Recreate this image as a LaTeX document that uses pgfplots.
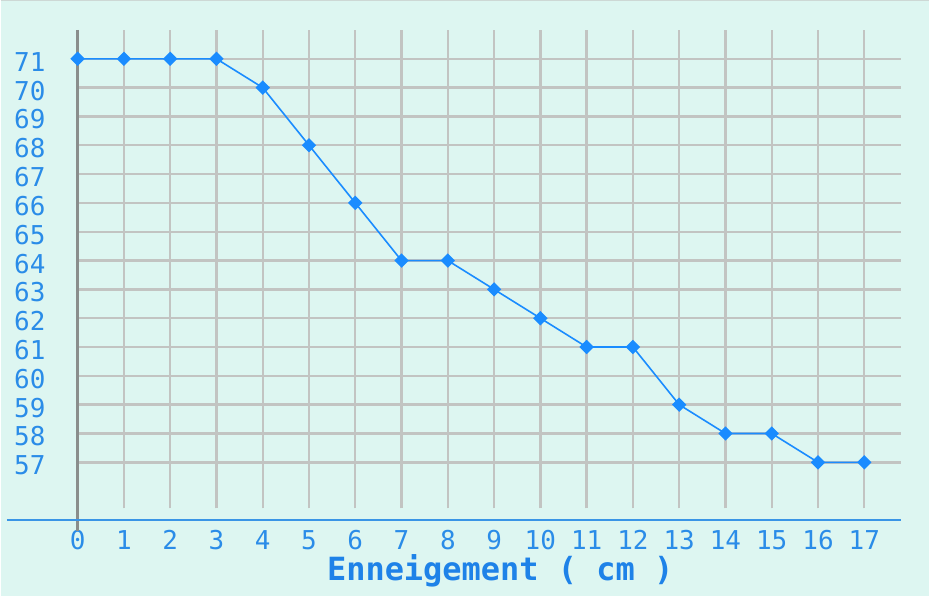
\documentclass[border=0pt]{standalone}
\usepackage{pgfplots}
\pgfplotsset{compat=1.18}
\usepackage{fontspec}
\setmainfont{DejaVu Sans Mono}
\definecolor{bg}{HTML}{DDF6F1}
\definecolor{gridc}{HTML}{C2C4C2}
\definecolor{tickc}{HTML}{2A8CE8}
\definecolor{linec}{HTML}{1A8CFF}
\definecolor{axc}{HTML}{8A8E8C}
\definecolor{xaxc}{HTML}{3A95E6}
\definecolor{labc}{HTML}{1E82E8}
\begin{document}
\begin{tikzpicture}
\fill[bg] (-77pt,-87.8pt) rectangle (853pt,509.2pt);
\draw[color=gridc!60!bg, line width=1.5pt] (-77pt,508.5pt) -- (853pt,508.5pt);
\begin{axis}[
 at={(0,0)}, anchor=south west,
 scale only axis, width=825pt, height=479.2pt,
 xmin=0, xmax=17.8, ymin=55.4, ymax=72,
 axis line style={draw=none},
 xtick={0,...,17}, ytick={57,...,71},
 major tick length=0pt,
 grid=major, major grid style={gridc, line width=2.4pt},
 clip=false,
 tick label style={font=\fontsize{26}{26}\selectfont, text=tickc, inner sep=0pt},
 xticklabel style={anchor=center, yshift=-31.8pt},
 yticklabel style={anchor=east, xshift=-32pt, yshift=-3pt},
 /pgf/number format/assume math mode=true,
 xlabel={Enneigement ( cm )},
 xlabel style={at={(rel axis cs:0.513,0)}, anchor=center, yshift=-62pt, font=\fontsize{32}{32}\selectfont\bfseries, text=labc},
]
\draw[axc, line width=2.6pt] (axis cs:0,72) -- (axis cs:0,54.6);
\draw[xaxc, line width=2.6pt] (axis cs:-1.53,55) -- (axis cs:17.8,55);
\addplot[linec, line width=1.6pt, mark=square*, mark size=4.3pt, mark options={rotate=45, solid}] coordinates {
(0,71) (1,71) (2,71) (3,71) (4,70) (5,68) (6,66) (7,64) (8,64) (9,63)
(10,62) (11,61) (12,61) (13,59) (14,58) (15,58) (16,57) (17,57)
};
\end{axis}
\end{tikzpicture}
\end{document}
